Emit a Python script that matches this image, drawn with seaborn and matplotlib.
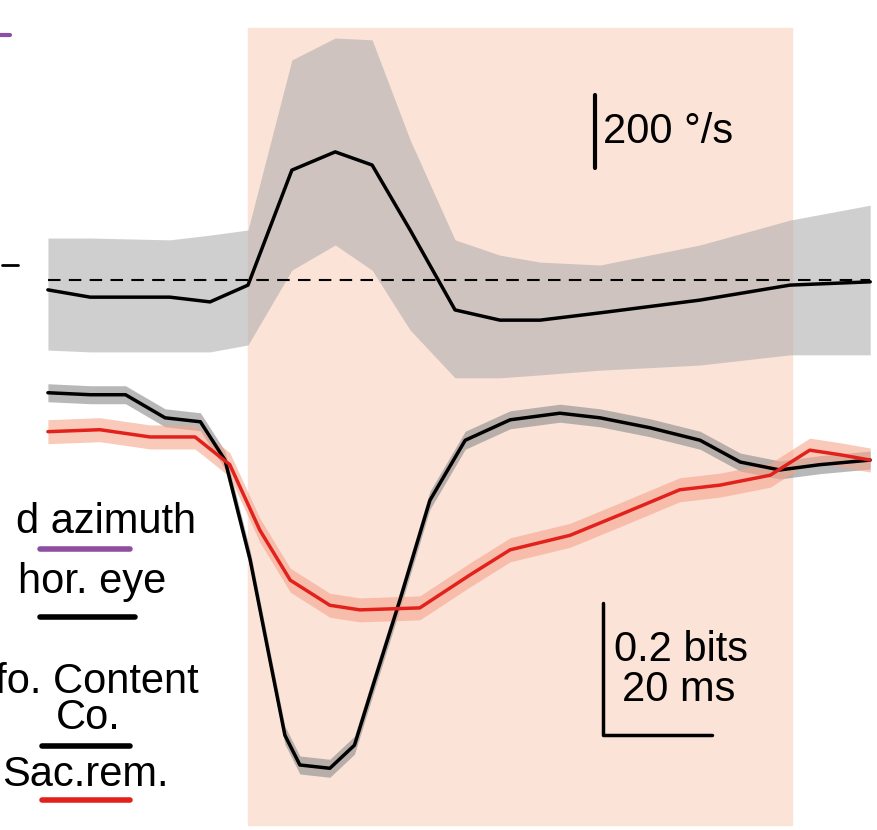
import numpy as np
import matplotlib
matplotlib.use("Agg")
import matplotlib.pyplot as plt
import seaborn as sns

sns.set_theme(style="white")
plt.rcParams["font.family"] = ["Arial", "Liberation Sans", "DejaVu Sans"]

# eye velocity (deg/s) vs time (ms)
vel_t = [-37.4, -29.5, -14.6, -7.1, 0, 8.2, 16.3, 23.2, 30.3, 38.7, 47.1, 54.6, 65.8, 84.5, 101.3, 116.3]
vel_mean = [-27, -47, -47, -60, -14, 301, 351, 315, 137, -82, -110, -110, -90, -55, -14, -5]
vel_hi = [115, 115, 110, 123, 137, 603, 663, 658, 384, 110, 68, 49, 41, 96, 164, 205]
vel_lo = [-192, -197, -197, -197, -178, 27, 96, 27, -137, -268, -268, -260, -247, -233, -205, -205]

# information content (bits)
co_t = [-37.4, -29.5, -22.9, -15.5, -8.9, -4.3, 0.4, 4.1, 6.9, 9.7, 15.3, 19.9, 23.7, 28.4, 34.0,
        40.6, 49.0, 58.3, 65.8, 75.1, 84.5, 92.0, 99.4, 106.9, 116.3]
co_bits = [0.011, 0.008, 0.008, -0.027, -0.033, -0.091, -0.242, -0.394, -0.508, -0.553, -0.558,
           -0.523, -0.424, -0.303, -0.152, -0.061, -0.030, -0.020, -0.027, -0.042, -0.061, -0.094,
           -0.106, -0.098, -0.091]
sr_t = [-37.4, -27.7, -18.3, -9.9, -3.4, 2.2, 7.9, 15.3, 20.9, 32.1, 41.5, 49.0, 60.2, 69.5,
        80.7, 88.2, 97.6, 105.0, 110.7, 116.3]
sr_bits = [-0.048, -0.045, -0.056, -0.056, -0.098, -0.197, -0.273, -0.311, -0.318, -0.315,
           -0.265, -0.227, -0.205, -0.174, -0.136, -0.129, -0.114, -0.076, -0.083, -0.091]

# layout: y axis in pixel rows (inverted)
VEL0, VEL_PX = 280, 0.365      # px per deg/s
INF0, INF_PX = 400, 660        # px per bit
MS_PX = 5.35


def vy(v):
    return VEL0 - np.asarray(v) * VEL_PX


def iy(b):
    return INF0 - np.asarray(b) * INF_PX


fig = plt.figure(figsize=(8.77, 8.3), dpi=100)
ax = fig.add_axes([0, 0, 1, 1])
ax.set_xlim(-248 / MS_PX, (877 - 248) / MS_PX)
ax.set_ylim(830, 0)
ax.axis("off")

ax.axvspan(0, 544 / MS_PX, ymin=5 / 830, ymax=802 / 830, color="#fbe3d8", zorder=0)

ax.fill_between(vel_t, vy(vel_lo), vy(vel_hi), color="#a9a9a9", alpha=0.55, lw=0, zorder=1)
sns.lineplot(x=vel_t, y=vy(vel_mean), color="black", lw=2.5, ax=ax, zorder=3)
ax.plot([-37.4, 116.3], [VEL0, VEL0], "--", color="black", lw=1.5, dashes=(6, 4), zorder=2)
ax.plot([-46, -43], [265, 265], color="black", lw=2)
ax.plot([-46.4, -44.5], [35, 35], color="#8e4fa0", lw=3)

co_y = iy(co_bits)
sr_y = iy(sr_bits)
ax.fill_between(co_t, co_y - 9, co_y + 9, color="#8a8a8a", alpha=0.6, lw=0, zorder=1)
ax.fill_between(sr_t, sr_y - 12, sr_y + 12, color="#f5a58c", alpha=0.6, lw=0, zorder=1)
sns.lineplot(x=co_t, y=co_y, color="black", lw=2.5, ax=ax, zorder=3)
sns.lineplot(x=sr_t, y=sr_y, color="#e3211c", lw=2.5, ax=ax, zorder=4)

px = lambda p: (p - 248) / MS_PX
fs = 30
tk = dict(fontsize=fs, color="black", va="center")
# scale bars
ax.plot([px(595), px(595)], [95, 168], color="black", lw=3)
ax.text(px(603), 132, "200 °/s", **tk)
ax.plot([px(603), px(603), px(712)], [603, 735, 735], color="black", lw=2.5)
ax.text(px(614), 650, "0.2 bits", **tk)
ax.text(px(622), 690, "20 ms", **tk)

# legend
ax.text(px(196), 522, "d azimuth", ha="right", **tk)
ax.plot([px(40), px(130)], [549, 549], color="#8e4fa0", lw=4)
ax.text(px(92), 582, "hor. eye", ha="center", **tk)
ax.plot([px(40), px(135)], [617, 617], color="black", lw=4)
ax.text(px(199), 682, "nfo. Content", ha="right", **tk)
ax.text(px(88), 718, "Co.", ha="center", **tk)
ax.plot([px(42), px(130)], [746, 746], color="black", lw=4)
ax.text(px(85), 775, "Sac.rem.", ha="center", **tk)
ax.plot([px(42), px(130)], [800, 800], color="#e3211c", lw=4)

fig.savefig("out.png", dpi=100)
